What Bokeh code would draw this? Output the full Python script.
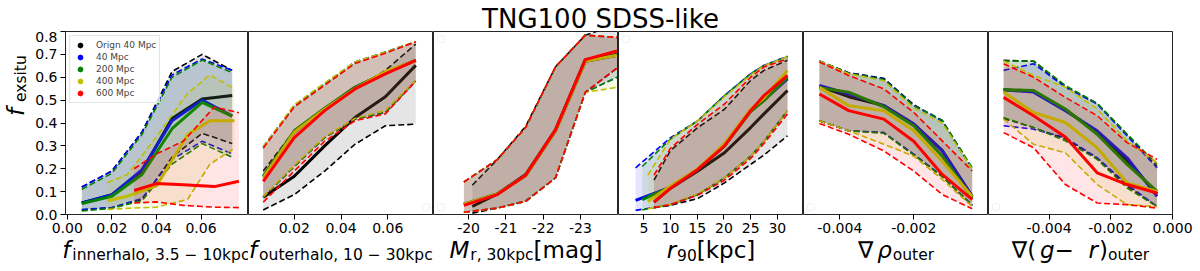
from math import pi
from bokeh.plotting import figure
from bokeh.layouts import row, column
from bokeh.models import Range1d, FixedTicker, Label, Legend, LegendItem, BoxAnnotation, Spacer
from bokeh.embed import file_html
from bokeh.resources import INLINE

FONT = "DejaVu Sans"
SERIES = ["Orign 40 Mpc", "40 Mpc", "200 Mpc", "400 Mpc", "600 Mpc"]
COLORS = ["#000000", "#0000ff", "#008000", "#bfbf00", "#ff0000"]
Y_TICKS = [0.0, 0.1, 0.2, 0.3, 0.4, 0.5, 0.6, 0.7, 0.8]
Y_TICK_LABELS = ["0.0", "0.1", "0.2", "0.3", "0.4", "0.5", "0.6", "0.7", "0.8"]

# ---------- panel 1: f_innerhalo ----------
inner_x = [
    [0.0065, 0.020, 0.0335, 0.047, 0.0605, 0.074],
    [0.0065, 0.020, 0.0335, 0.047, 0.0605, 0.074],
    [0.0065, 0.020, 0.0335, 0.047, 0.0605, 0.074],
    [0.018, 0.027, 0.040, 0.054, 0.064, 0.075],
    [0.030, 0.040, 0.052, 0.066, 0.077],
]
inner_med = [
    [0.05, 0.085, 0.19, 0.42, 0.505, 0.52],
    [0.05, 0.087, 0.195, 0.41, 0.50, 0.43],
    [0.048, 0.08, 0.175, 0.375, 0.49, 0.43],
    [0.06, 0.08, 0.125, 0.35, 0.41, 0.41],
    [0.105, 0.135, 0.13, 0.122, 0.145],
]
inner_hi = [
    [0.12, 0.19, 0.36, 0.625, 0.70, 0.63],
    [0.12, 0.19, 0.36, 0.61, 0.68, 0.63],
    [0.11, 0.18, 0.35, 0.60, 0.675, 0.62],
    [0.14, 0.175, 0.34, 0.53, 0.61, 0.55],
    [0.20, 0.265, 0.32, 0.47, 0.445],
]
inner_lo = [
    [0.02, 0.03, 0.065, 0.25, 0.355, 0.31],
    [0.022, 0.03, 0.07, 0.24, 0.32, 0.265],
    [0.015, 0.027, 0.06, 0.22, 0.31, 0.25],
    [0.022, 0.027, 0.032, 0.066, 0.22, 0.29],
    [0.05, 0.055, 0.04, 0.032, 0.03],
]

# ---------- panel 2: f_outerhalo ----------
outer_xs = [0.0067, 0.020, 0.033, 0.046, 0.059, 0.072]
outer_x = [outer_xs] * 5
outer_med = [
    [0.075, 0.167, 0.30, 0.424, 0.515, 0.652],
    [0.165, 0.36, 0.46, 0.556, 0.62, 0.674],
    [0.167, 0.366, 0.465, 0.556, 0.62, 0.674],
    [0.16, 0.36, 0.46, 0.55, 0.625, 0.672],
    [0.145, 0.336, 0.454, 0.549, 0.615, 0.674],
]
outer_hi = [
    [0.19, 0.366, 0.46, 0.55, 0.63, 0.745],
    [0.295, 0.476, 0.571, 0.667, 0.71, 0.755],
    [0.295, 0.476, 0.571, 0.665, 0.71, 0.755],
    [0.295, 0.48, 0.575, 0.667, 0.71, 0.755],
    [0.29, 0.47, 0.565, 0.66, 0.705, 0.755],
]
outer_lo = [
    [0.02, 0.087, 0.19, 0.307, 0.388, 0.395],
    [0.075, 0.21, 0.336, 0.417, 0.446, 0.585],
    [0.075, 0.21, 0.336, 0.417, 0.446, 0.585],
    [0.078, 0.215, 0.34, 0.42, 0.455, 0.585],
    [0.054, 0.19, 0.32, 0.41, 0.44, 0.583],
]

# ---------- panel 3: M_r ----------
mag_x = [
    [-20.1, -20.77, -21.53, -22.33, -23.13, -23.98],
    [-19.875, -20.77, -21.53, -22.33, -23.13, -23.98],
    [-19.875, -20.77, -21.53, -22.33, -23.13, -23.98],
    [-19.875, -20.77, -21.53, -22.33, -23.13, -23.98],
    [-19.875, -20.77, -21.53, -22.33, -23.13, -23.98],
]
mag_med = [
    [0.035, 0.09, 0.175, 0.37, 0.677, 0.70],
    [0.045, 0.09, 0.17, 0.365, 0.67, 0.696],
    [0.045, 0.09, 0.17, 0.365, 0.67, 0.696],
    [0.045, 0.09, 0.17, 0.365, 0.67, 0.696],
    [0.04, 0.087, 0.172, 0.37, 0.677, 0.715],
]
mag_hi = [
    [0.128, 0.24, 0.385, 0.645, 0.784, 0.83],
    [0.142, 0.24, 0.38, 0.645, 0.784, 0.774],
    [0.142, 0.24, 0.38, 0.645, 0.784, 0.774],
    [0.142, 0.24, 0.38, 0.645, 0.784, 0.774],
    [0.142, 0.24, 0.38, 0.645, 0.784, 0.774],
]
mag_lo = [
    [0.006, 0.028, 0.06, 0.16, 0.534, 0.64],
    [0.01, 0.028, 0.057, 0.16, 0.534, 0.60],
    [0.01, 0.028, 0.057, 0.16, 0.534, 0.60],
    [0.01, 0.028, 0.057, 0.16, 0.534, 0.556],
    [0.01, 0.028, 0.057, 0.16, 0.534, 0.64],
]

# ---------- panel 4: r_90 ----------
r90_x = [
    [6.9, 10, 15.1, 20.1, 25, 27.5, 31.9],
    [3.45, 10, 15.1, 20.1, 25, 27.5, 31.9],
    [4.7, 10, 15.1, 20.1, 25, 27.5, 31.9],
    [5.75, 10, 15.1, 20.1, 25, 27.5, 31.9],
    [6.9, 10, 15.1, 20.1, 25, 27.5, 31.9],
]
r90_med = [
    [0.054, 0.115, 0.19, 0.27, 0.38, 0.44, 0.542],
    [0.062, 0.119, 0.197, 0.30, 0.454, 0.50, 0.593],
    [0.065, 0.12, 0.197, 0.30, 0.45, 0.498, 0.60],
    [0.057, 0.125, 0.20, 0.31, 0.46, 0.51, 0.63],
    [0.054, 0.115, 0.197, 0.30, 0.454, 0.52, 0.608],
]
r90_hi = [
    [0.15, 0.28, 0.38, 0.46, 0.586, 0.63, 0.674],
    [0.204, 0.336, 0.41, 0.52, 0.615, 0.652, 0.692],
    [0.21, 0.33, 0.41, 0.52, 0.615, 0.652, 0.69],
    [0.172, 0.33, 0.41, 0.515, 0.61, 0.65, 0.69],
    [0.172, 0.29, 0.395, 0.483, 0.60, 0.645, 0.681],
]
r90_lo = [
    [0.03, 0.04, 0.07, 0.138, 0.219, 0.26, 0.344],
    [0.018, 0.043, 0.087, 0.16, 0.255, 0.32, 0.454],
    [0.02, 0.043, 0.087, 0.16, 0.255, 0.32, 0.454],
    [0.025, 0.045, 0.09, 0.16, 0.255, 0.32, 0.454],
    [0.03, 0.043, 0.085, 0.15, 0.245, 0.31, 0.44],
]

# ---------- panel 5: grad rho ----------
rho_xs = [-0.00455, -0.00376, -0.00281, -0.0020, -0.00123, -0.00042]
rho_x = [rho_xs] * 5
rho_med = [
    [0.56, 0.515, 0.476, 0.395, 0.28, 0.08],
    [0.564, 0.527, 0.476, 0.395, 0.278, 0.079],
    [0.554, 0.535, 0.471, 0.388, 0.256, 0.072],
    [0.556, 0.476, 0.454, 0.366, 0.233, 0.079],
    [0.527, 0.454, 0.417, 0.32, 0.175, 0.065],
]
rho_hi = [
    [0.67, 0.62, 0.595, 0.48, 0.41, 0.20],
    [0.671, 0.618, 0.593, 0.476, 0.41, 0.197],
    [0.671, 0.618, 0.59, 0.476, 0.412, 0.204],
    [0.671, 0.615, 0.585, 0.465, 0.40, 0.197],
    [0.667, 0.608, 0.549, 0.446, 0.322, 0.19],
]
rho_lo = [
    [0.41, 0.366, 0.358, 0.263, 0.167, 0.04],
    [0.41, 0.366, 0.358, 0.263, 0.167, 0.04],
    [0.41, 0.366, 0.355, 0.26, 0.165, 0.04],
    [0.41, 0.366, 0.307, 0.255, 0.153, 0.035],
    [0.398, 0.351, 0.278, 0.19, 0.087, 0.025],
]

# ---------- panel 6: grad (g-r) ----------
gr_xs = [-0.00547, -0.0045, -0.00347, -0.00244, -0.00147, -0.0005]
gr_x = [gr_xs] * 5
gr_med = [
    [0.545, 0.54, 0.458, 0.36, 0.235, 0.09],
    [0.545, 0.535, 0.454, 0.366, 0.248, 0.079],
    [0.545, 0.542, 0.461, 0.351, 0.219, 0.101],
    [0.535, 0.446, 0.402, 0.292, 0.138, 0.101],
    [0.512, 0.432, 0.339, 0.182, 0.131, 0.094],
]
gr_hi = [
    [0.674, 0.67, 0.56, 0.485, 0.35, 0.21],
    [0.63, 0.659, 0.557, 0.483, 0.344, 0.204],
    [0.671, 0.671, 0.564, 0.486, 0.351, 0.219],
    [0.671, 0.608, 0.557, 0.461, 0.322, 0.226],
    [0.659, 0.60, 0.512, 0.432, 0.314, 0.241],
]
gr_lo = [
    [0.42, 0.38, 0.33, 0.245, 0.125, 0.035],
    [0.388, 0.373, 0.336, 0.248, 0.131, 0.035],
    [0.424, 0.38, 0.322, 0.241, 0.116, 0.035],
    [0.417, 0.307, 0.27, 0.131, 0.043, 0.035],
    [0.358, 0.292, 0.131, 0.05, 0.043, 0.028],
]

# x ticks per panel
inner_ticks = [0.0, 0.02, 0.04, 0.06]
inner_tick_labels = ["0.00", "0.02", "0.04", "0.06"]
outer_ticks = [0.02, 0.04, 0.06]
outer_tick_labels = ["0.02", "0.04", "0.06"]
mag_ticks = [-20, -21, -22, -23]
mag_tick_labels = ["-20", "-21", "-22", "-23"]
r90_ticks = [5, 10, 15, 20, 25, 30]
r90_tick_labels = ["5", "10", "15", "20", "25", "30"]
rho_ticks = [-0.004, -0.002]
rho_tick_labels = ["-0.004", "-0.002"]
gr_ticks = [-0.004, -0.002, 0.0]
gr_tick_labels = ["-0.004", "-0.002", "0.000"]

# ---------- helpers ----------
CW = {' ': .318, ',': .318, '.': .318, '-': .361, '\u2212': .838, '(': .390, ')': .390,
      '[': .390, ']': .390, 'a': .613, 'c': .550, 'e': .615, 'f': .352, 'g': .635,
      'h': .634, 'i': .278, 'k': .579, 'l': .278, 'm': .974, 'n': .634, 'o': .612,
      'p': .635, 'r': .411, 's': .521, 't': .392, 'u': .634, 'x': .592, 'M': .863,
      '\u2207': .838, '\u03c1': .635}
for d in "0123456789":
    CW[d] = .636


def text_w(t, size):
    return sum(CW.get(c, 0.6) for c in t) * size


FRAME_H = 183
BOTTOM = 25
PANEL_H = FRAME_H + BOTTOM
XLAB_H = 31
TITLE_H = 31
YLAB_W = 32
P1_LEFT = 31
W = 185
W6 = 206


def blank(width, height):
    f = figure(width=width, height=height, toolbar_location=None, output_backend="svg",
               x_range=Range1d(0, 1), y_range=Range1d(0, 1), title=None,
               min_border_left=0, min_border_right=0, min_border_top=0, min_border_bottom=0,
               x_axis_location=None, y_axis_location=None)
    f.grid.visible = False
    f.outline_line_color = None
    f.border_fill_color = "white"
    f.background_fill_color = "white"
    return f


def rich_label(p, segs, center, base, rotated=False):
    widths = [text_w(t, sz) + extra for (t, sz, st, dy, extra) in segs]
    pos = center - sum(widths) / 2
    for (t, sz, st, dy, extra), w in zip(segs, widths):
        kw = dict(text=t, text_font=FONT, text_font_size=f"{sz}px", text_font_style=st,
                  text_color="black", text_align="left", text_baseline="alphabetic",
                  x_units="screen", y_units="screen")
        if rotated:
            lab = Label(x=base - dy, y=pos, angle=pi / 2, **kw)
        else:
            lab = Label(x=pos, y=base + dy, **kw)
        p.add_layout(lab)
        pos += w


def empty_box(p, corner, fw):
    s = 7
    if corner == "tl":
        l, b = 4, FRAME_H - 4 - s
    elif corner == "bl":
        l, b = 4, 4
    else:  # br
        l, b = fw - 4 - s, 4
    p.add_layout(BoxAnnotation(left=l, right=l + s, bottom=b, top=b + s,
                               left_units="screen", right_units="screen",
                               top_units="screen", bottom_units="screen",
                               fill_color="white", fill_alpha=0.8,
                               line_color="#cccccc", line_width=1, border_radius=2))


def make_panel(xr, ticks, tick_labels, width, xs, meds, his, los,
               border_left=0, border_right=0, show_y=False):
    p = figure(width=width, height=PANEL_H, x_range=Range1d(*xr), y_range=Range1d(0, 0.8),
               toolbar_location=None, output_backend="svg", title=None,
               min_border_left=border_left, min_border_right=border_right,
               min_border_top=0, min_border_bottom=BOTTOM,
               y_axis_location="left" if show_y else None)
    p.xgrid.visible = False
    p.ygrid.visible = False
    p.outline_line_color = "black"
    p.outline_line_width = 1
    p.outline_line_alpha = 0.85
    p.background_fill_color = "white"
    p.border_fill_color = "white"
    axes = [p.xaxis[0]] + ([p.yaxis[0]] if show_y else [])
    for ax in axes:
        ax.axis_line_color = None
        ax.major_tick_line_color = "black"
        ax.major_tick_out = 5
        ax.major_tick_in = 0
        ax.minor_tick_line_color = None
        ax.major_label_text_font = FONT
        ax.major_label_text_font_size = "14px"
        ax.major_label_text_color = "black"
        ax.major_label_standoff = 3
    p.xaxis[0].ticker = FixedTicker(ticks=ticks)
    p.xaxis[0].major_label_overrides = {t: l for t, l in zip(ticks, tick_labels)}
    if show_y:
        p.yaxis[0].ticker = FixedTicker(ticks=Y_TICKS)
        p.yaxis[0].major_label_overrides = {t: l for t, l in zip(Y_TICKS, Y_TICK_LABELS)}
    for x, m, h, lo, c in zip(xs, meds, his, los, COLORS):
        p.varea(x=x, y1=lo, y2=h, fill_color=c, fill_alpha=0.1)
        p.line(x=x, y=h, line_color=c, line_width=1.6, line_dash="6 3")
        p.line(x=x, y=lo, line_color=c, line_width=1.6, line_dash="6 3")
        p.line(x=x, y=m, line_color=c, line_width=3)
    return p


p1 = make_panel((-0.0008, 0.0813), inner_ticks, inner_tick_labels, P1_LEFT + W,
                inner_x, inner_med, inner_hi, inner_lo, border_left=P1_LEFT, show_y=True)
p2 = make_panel((0.0004, 0.0796), outer_ticks, outer_tick_labels, W,
                outer_x, outer_med, outer_hi, outer_lo)
p3 = make_panel((-19.06, -24.02), mag_ticks, mag_tick_labels, W,
                mag_x, mag_med, mag_hi, mag_lo)
p4 = make_panel((0.25, 34.9), r90_ticks, r90_tick_labels, W,
                r90_x, r90_med, r90_hi, r90_lo)
p5 = make_panel((-0.00498, 0.00002), rho_ticks, rho_tick_labels, W,
                rho_x, rho_med, rho_hi, rho_lo)
p6 = make_panel((-0.00596, 0.0), gr_ticks, gr_tick_labels, W6,
                gr_x, gr_med, gr_hi, gr_lo, border_right=W6 - 184)

# legend in panel 1 (NaN points only provide the legend dots)
nan = float("nan")
dummies = [p1.scatter(x=[nan], y=[nan], color=c, size=6) for c in COLORS]
legend = Legend(items=[LegendItem(label=n, renderers=[r]) for n, r in zip(SERIES, dummies)],
                location="top_left", margin=4, padding=3, spacing=0,
                glyph_width=14, glyph_height=12, label_height=12, label_standoff=9,
                label_text_font=FONT, label_text_font_size="9px",
                border_line_color="#cccccc", border_line_width=1,
                background_fill_alpha=0.8)
p1.add_layout(legend)

# empty legend boxes as in the original
empty_box(p2, "br", 185)
empty_box(p3, "tl", 185)
empty_box(p3, "bl", 185)
empty_box(p4, "tl", 185)
empty_box(p5, "bl", 185)
empty_box(p6, "bl", 184)

# axis-label strips
MAIN, SUB, DY = 23, 15.5, -5
BASE = 21
xl = [blank(W, XLAB_H) for _ in range(5)] + [blank(W6, XLAB_H)]
rich_label(xl[0], [("f", MAIN, "italic", 0, 2), ("innerhalo, 3.5 \u2212 10kpc", SUB, "normal", DY, 0)], 92.5, BASE)
rich_label(xl[1], [("f", MAIN, "italic", 0, 2), ("outerhalo, 10 \u2212 30kpc", SUB, "normal", DY, 0)], 92.5, BASE)
rich_label(xl[2], [("M", MAIN, "italic", 0, 1), ("r, 30kpc", SUB, "normal", DY, 0), ("[mag]", MAIN, "normal", 0, 0)], 92.5, BASE)
rich_label(xl[3], [("r", MAIN, "italic", 0, 1), ("90", SUB, "normal", DY, 0), ("[kpc]", MAIN, "normal", 0, 0)], 92.5, BASE)
rich_label(xl[4], [("\u2207", MAIN, "normal", 0, 0), ("\u03c1", MAIN, "italic", 0, 1), ("outer", SUB, "normal", DY, 0)], 92.5, BASE)
rich_label(xl[5], [("\u2207(", MAIN, "normal", 0, 0), ("g", MAIN, "italic", 0, 0), (" \u2212 ", MAIN, "normal", 0, 0),
                   ("r", MAIN, "italic", 0, 1), (")", MAIN, "normal", 0, 0), ("outer", SUB, "normal", DY, 0)], 92, BASE)

yl = blank(YLAB_W, PANEL_H)
rich_label(yl, [("f", MAIN, "italic", 0, 6), ("exsitu", SUB, "normal", DY, 0)],
           PANEL_H - 110 + TITLE_H, 15, rotated=True)

# title strip
total_w = YLAB_W + P1_LEFT + 5 * W + W6
pt = blank(total_w, TITLE_H)
pt.add_layout(Label(x=600, y=13, x_units="screen", y_units="screen", text="TNG100 SDSS-like",
                    text_font=FONT, text_font_size="26px", text_align="center",
                    text_baseline="alphabetic", text_color="black"))

layout = column(
    pt,
    row(yl, p1, p2, p3, p4, p5, p6, spacing=0),
    row(Spacer(width=YLAB_W + P1_LEFT, height=XLAB_H), *xl, spacing=0),
    spacing=0,
)
open("out.html", "w").write(file_html(layout, INLINE))
